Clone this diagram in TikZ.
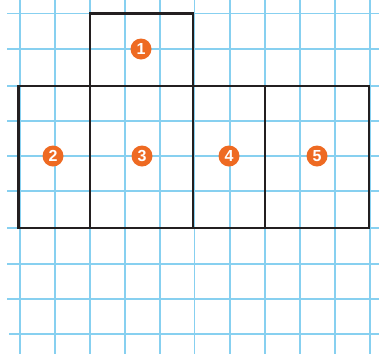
\documentclass[tikz,border=0pt]{standalone}
\usepackage{fontspec}
\setmainfont{Liberation Sans}
\definecolor{gridblue}{RGB}{135,208,240}
\definecolor{outline}{RGB}{35,31,32}
\definecolor{badge}{RGB}{238,106,34}
\begin{document}
\begin{tikzpicture}[x=1pt,y=-1pt,
  gridline/.style={draw=gridblue,line width=1.6pt},
  shapeline/.style={draw=outline,line width=2.6pt,line join=miter},
  badgenode/.style={circle,fill=badge,inner sep=0pt,minimum size=21pt,
    text=white,font=\fontsize{16}{16}\selectfont\bfseries}]
\useasboundingbox (0,0) rectangle (379,354);
% grid
\foreach \x in {19.7,54.7,89.8,124.8,159.8,194.5,229.7,264.9,299.9,334.9,370}
  \draw[gridline] (\x,0) -- (\x,354);
\foreach \y in {13.3,48.7,86,120.7,156,191,228,263.7,298.7}
  \draw[gridline] (7,\y) -- (379,\y);
\draw[gridline] (9,333.7) -- (379,333.7);
% shapes
\draw[shapeline] (90,13.3) rectangle (193,86);
\draw[shapeline] (18.5,86) rectangle (90,228);
\draw[shapeline] (90,86) rectangle (193,228);
\draw[shapeline] (193,86) rectangle (265,228);
\draw[shapeline] (265,86) rectangle (369,228);
% badges
\node[badgenode] (n1) at (141,49) {1};
\node[badgenode] (n2) at (53,156) {2};
\node[badgenode] (n3) at (142,156) {3};
\node[badgenode] (n4) at (229,156) {4};
\node[badgenode] (n5) at (317,156) {5};
\end{tikzpicture}
\end{document}
